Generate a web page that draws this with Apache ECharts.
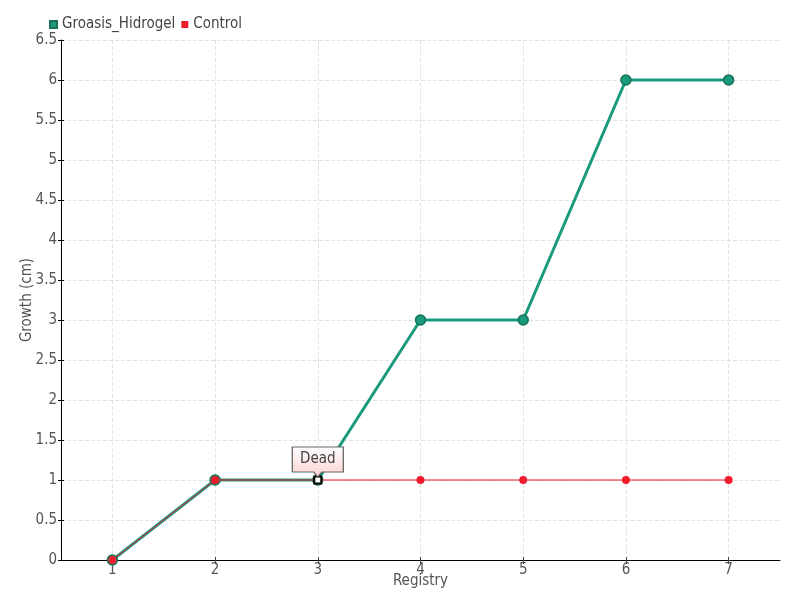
<!DOCTYPE html>
<html><head><meta charset="utf-8">
<script src="https://cdn.jsdelivr.net/npm/echarts@6/dist/echarts.min.js"></script>
<style>html,body{margin:0;padding:0;background:#fff}#c{width:800px;height:600px}</style>
</head><body><div id="c"></div>
<script>
const categories = ['1','2','3','4','5','6','7'];
const groasis = [0,1,1,3,3,6,6];
const control = [0,1,1,1,1,1,1];
const deadIndex = 2;
const deadLabel = 'Dead';

const FONT = '"DejaVu Sans Condensed","Liberation Sans Narrow",sans-serif';
// helper axis with half-step categories so grid lines sit on category centres
const halfSteps = [];
for (let i = 0; i <= categories.length * 2; i++) halfSteps.push(String(i));
const onCentre = (idx) => idx % 2 === 1;

const chart = echarts.init(document.getElementById('c'));
const yBase = {type:'value', min:0, max:6.5, interval:0.5};
chart.setOption({
  animation:false,
  textStyle:{fontFamily:FONT},
  legend:{left:44, top:12, itemWidth:7, itemHeight:7, itemGap:6, icon:'rect',
    textStyle:{fontFamily:FONT, fontSize:15, color:'#444'},
    data:['Groasis_Hidrogel','Control']},
  grid:{left:61, right:20, top:40, bottom:40, outerBoundsMode:'none', containLabel:false},
  xAxis:[{type:'category', data:categories, boundaryGap:true,
    name:'Registry', nameLocation:'middle', nameGap:14, nameMoveOverlap:false,
    nameTextStyle:{fontFamily:FONT, fontSize:15, color:'#555', verticalAlign:'top'},
    axisLine:{lineStyle:{color:'#000'}},
    axisTick:{show:false},
    axisLabel:{margin:3, fontFamily:FONT, fontSize:15, color:'#555'},
    splitLine:{show:false}},
   {type:'category', data:halfSteps, boundaryGap:false, position:'bottom',
    axisLine:{show:false}, axisLabel:{show:false},
    axisTick:{show:true, interval:onCentre, length:4, lineStyle:{color:'#444'}},
    splitLine:{show:true, interval:onCentre, lineStyle:{type:'dashed', color:'#e3e3e3'}}},
   {type:'category', data:halfSteps, boundaryGap:false, position:'bottom',
    axisLine:{show:false}, axisLabel:{show:false}, splitLine:{show:false},
    axisTick:{show:true, inside:true, interval:onCentre, length:3, lineStyle:{color:'#444'}}}],
  yAxis:[Object.assign({}, yBase, {
    name:'Growth (cm)', nameLocation:'middle', nameGap:26, nameMoveOverlap:false,
    nameTextStyle:{fontFamily:FONT, fontSize:15, color:'#555'},
    axisLine:{show:true, lineStyle:{color:'#000'}},
    axisTick:{show:true, length:3, lineStyle:{color:'#000'}},
    axisLabel:{margin:4, fontFamily:FONT, fontSize:15, color:'#555'},
    splitLine:{show:true, lineStyle:{type:'dashed', color:'#e3e3e3'}}}),
   Object.assign({}, yBase, {position:'left',
    axisLine:{show:false}, axisLabel:{show:false}, splitLine:{show:false},
    axisTick:{show:true, inside:true, length:3, lineStyle:{color:'#000'}}})],
  series:[
    {name:'Groasis_Hidrogel', type:'line', data:groasis, color:'#1a9a7c',
     lineStyle:{width:3, color:'#1a9a7c'}, symbol:'circle', symbolSize:10,
     itemStyle:{color:'#1a9a7c', borderColor:'#177058', borderWidth:1.5}, z:2},
    {name:'Control', type:'line', data:control.map((v,i)=> i===deadIndex ?
        {value:v, symbol:'rect', symbolSize:7, itemStyle:{color:'#fff', borderColor:'#000', borderWidth:2}} : v),
     color:'#ee1c2c',
     lineStyle:{width:1, color:'#ee1c2c'}, symbol:'circle', symbolSize:8,
     itemStyle:{color:'#ee1c2c'}, z:3,
     markPoint:{
       data:[{coord:[deadIndex, control[deadIndex]], value:deadLabel}],
       symbol:'path://M0,0 L50,0 L50,25 L29,25 L25,30 L21,25 L0,25 Z',
       symbolSize:[51,30], symbolKeepAspect:false, symbolOffset:[0,-18],
       itemStyle:{color:{type:'linear',x:0,y:0,x2:0,y2:1,colorStops:[{offset:0,color:'#ffffff'},{offset:1,color:'#fcd2d2'}]},
         borderColor:'#666', borderWidth:1},
       label:{show:true, formatter:deadLabel, offset:[0,-3], fontFamily:FONT, fontSize:15, color:'#444'}
     }}
  ]
});
</script></body></html>
